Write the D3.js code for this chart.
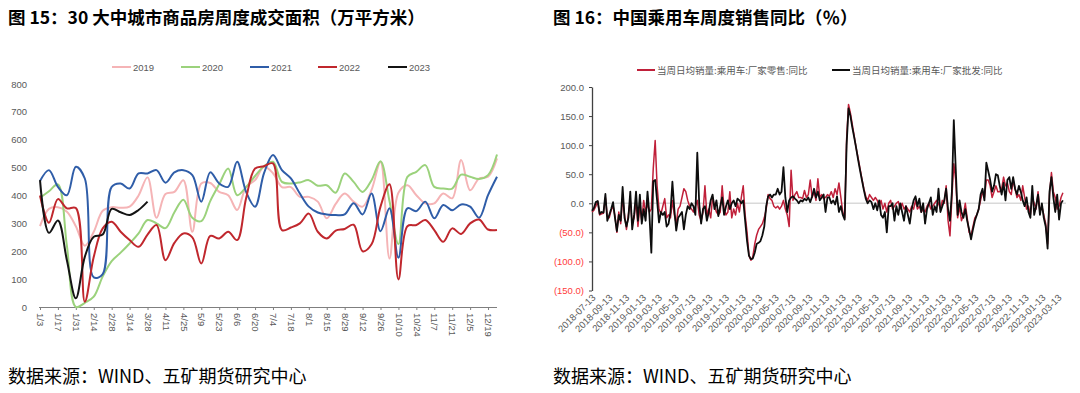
<!DOCTYPE html>
<html>
<head>
<meta charset="utf-8">
<style>
  body { margin: 0; background: #fff; }
  svg { display: block; }
  text { font-family: "Liberation Sans", Arial, sans-serif; }
  .cjk { font-family: "Noto Sans CJK SC", sans-serif; }
</style>
</head>
<body>
<svg id="chart" width="1080" height="393"></svg>
<script src="https://cdn.jsdelivr.net/npm/d3@7/dist/d3.min.js"></script>
<script>
  // ---- left chart data: weekly area (10k m2), 30 cities
  var weeks = ["1/3","1/10","1/17","1/24","1/31","2/7","2/14","2/21","2/28","3/7","3/14","3/21","3/28",
    "4/4","4/11","4/18","4/25","5/2","5/9","5/16","5/23","5/30","6/6","6/13","6/20","6/27",
    "7/4","7/11","7/18","7/25","8/1","8/8","8/15","8/22","8/29","9/5","9/12","9/19","9/26",
    "10/3","10/10","10/17","10/24","10/31","11/7","11/14","11/21","11/28","12/5","12/12","12/19","12/26"]
  var weekTicks = weeks.filter(function(d, i) { return i % 2 == 0 })
  var yearNames = ["2019","2020","2021","2022","2023"]
  var area2019 = [290,352,358,342,290,220,270,345,358,356,360,400,465,320,405,413,455,270,443,445,413,401,348,431,455,503,
    480,430,430,395,395,378,318,370,407,378,360,420,520,174,410,437,401,372,372,407,390,527,419,461,467,533]
  var area2020 = [392,415,440,220,0,15,37,110,165,195,228,264,312,300,283,340,385,320,308,380,440,497,401,430,470,505,
    521,449,443,447,455,435,437,410,479,449,413,455,523,380,226,467,485,509,431,425,425,475,467,459,473,547]
  var area2021 = [452,491,431,401,503,461,106,118,431,443,425,479,479,491,446,483,491,473,378,483,443,431,521,413,360,480,
    545,491,461,407,360,339,332,330,332,372,332,407,272,354,177,354,344,378,318,366,347,368,360,320,401,467]
  var area2022 = [400,302,387,354,355,19,180,282,306,270,240,216,260,294,168,230,264,250,156,255,246,270,240,390,497,505,
    515,276,285,300,335,270,246,274,280,295,200,225,360,440,99,290,294,312,276,234,282,262,300,314,278,276]
  var area2023 = [455,266,310,168,31,180,252,260,352,340,330,348,378]
  var leftTicks = [0,100,200,300,400,500,600,700,800]

  // ---- right chart data: weekly passenger car sales yoy (%)
  var salesStart = "2018-07-13"
  var dateTicks = ["2018-07-13","2018-09-13","2018-11-13","2019-01-13","2019-03-13","2019-05-13","2019-07-13",
    "2019-09-13","2019-11-13","2020-01-13","2020-03-13","2020-05-13","2020-07-13","2020-09-13","2020-11-13",
    "2021-01-13","2021-03-13","2021-05-13","2021-07-13","2021-09-13","2021-11-13","2022-01-13","2022-03-13",
    "2022-05-13","2022-07-13","2022-09-13","2022-11-13","2023-01-13","2023-03-13"]
  var rightTicks = [-150,-100,-50,0,50,100,150,200]
  var seriesNames = ["当周日均销量:乘用车:厂家零售:同比","当周日均销量:乘用车:厂家批发:同比"]
  var retail = [-15,-12,-5,3,-20,-18,-17,10,-22,-25,-12,-5,-22,-50,-15,-35,10,-20,-45,-20,
    5,-35,-25,5,-40,-5,-30,5,-15,0,-15,-10,60,108,30,-10,-18,-5,8,-25,
    -20,-25,5,-20,-35,-10,-5,10,25,20,5,-5,-10,-15,-5,5,-20,-30,-15,30,
    -20,-10,-25,10,-5,-15,-20,-15,30,-10,-20,-15,20,-25,-10,-20,0,-15,10,30,
    -20,-50,-90,-98,-92,-70,-55,-45,-40,-35,-25,-10,15,8,5,-5,-8,-5,-10,-5,
    5,-10,-20,-40,57,5,15,20,10,10,8,22,10,15,40,10,20,5,42,10,
    15,8,10,15,12,20,10,25,15,35,10,-15,-25,110,170,155,135,115,95,78,
    60,42,25,12,5,15,10,5,10,5,-5,5,-10,0,-15,0,5,-10,-5,0,
    3,-10,0,-10,-5,-10,-15,-5,-10,5,-10,-5,-15,-10,-15,-5,0,-10,-5,0,
    5,0,-10,5,0,30,-30,-56,10,68,40,-25,-5,-30,-20,0,-25,-50,-55,-40,
    -25,-20,-10,5,20,10,40,40,30,10,20,30,20,20,25,45,30,35,20,15,
    40,25,10,15,5,30,10,-10,-5,-20,10,0,-10,20,-15,-5,-20,-35,-70,15,
    53,20,10,-10,-5,10,18]
  var wholesale = [-13,-8,2,4,-18,-15,-16,16,-30,-20,-10,2,-25,-48,-20,-30,28,-25,-40,-25,
    20,-45,-20,20,-30,15,-35,-10,-30,20,-20,-85,38,40,5,-33,-15,-20,-15,-40,
    -35,-15,37,-10,-47,-25,-20,-15,-45,-20,-5,-10,0,-5,-20,87,0,-35,-10,-5,
    -30,-15,5,15,-10,5,-22,-5,10,-20,-5,5,-10,0,5,-5,8,5,0,5,
    -30,-65,-90,-96,-95,-85,-70,-68,-65,-55,-40,-5,12,15,10,15,15,25,15,20,
    62,10,-15,5,10,12,8,5,0,5,3,8,5,10,2,12,25,10,20,5,
    10,15,-15,10,10,0,5,-2,12,-15,-5,-20,-28,100,163,150,130,113,95,75,
    57,40,23,8,0,5,2,-10,0,-12,5,-20,-25,-15,-50,-5,-5,0,-30,-5,
    -20,0,-15,-30,-5,-20,-35,-10,5,12,-5,8,-15,0,-35,-10,0,10,-20,-5,
    -15,25,-15,-5,5,25,-10,-30,20,143,60,-20,5,-15,-25,-10,-30,-45,-62,-45,
    -30,-20,-10,15,25,5,70,55,40,20,30,50,48,30,15,35,5,40,45,25,
    45,25,15,30,20,5,-5,10,-15,-25,30,-20,-5,15,-20,0,-25,-40,-78,20,
    45,10,-15,15,-28,0,5]

  var svg = d3.select("#chart")
  var grey = "#595959"

  // titles and sources
  svg.append("text").attr("class", "cjk").attr("x", 8).attr("y", 24)
    .style("font-size", "17.5px").style("font-weight", "bold").text("图 15：30 大中城市商品房周度成交面积（万平方米）")
  svg.append("text").attr("class", "cjk").attr("x", 553).attr("y", 24)
    .style("font-size", "17.5px").style("font-weight", "bold").text("图 16：中国乘用车周度销售同比（％）")
  svg.append("text").attr("class", "cjk").attr("x", 8).attr("y", 383)
    .style("font-size", "18px").text("数据来源：WIND、五矿期货研究中心")
  svg.append("text").attr("class", "cjk").attr("x", 553).attr("y", 383)
    .style("font-size", "18px").text("数据来源：WIND、五矿期货研究中心")

  // ================= left chart
  var x1 = d3.scalePoint().domain(weeks).range([40, 497])
  var y1 = d3.scaleLinear().domain([0, 800]).range([307, 84])
  var colors1 = ["#f5b4b6", "#9bd27c", "#2f5da8", "#c0272d", "#141414"]
  var areas = [area2019, area2020, area2021, area2022, area2023]

  var yAxis1 = svg.append("g").attr("transform", "translate(28,0)")
    .call(d3.axisLeft(y1).tickValues(leftTicks).tickSize(0).tickPadding(1))
  yAxis1.select(".domain").remove()
  yAxis1.selectAll("text").style("font-size", "9.5px").attr("fill", grey)

  var xAxis1 = svg.append("g").attr("transform", "translate(0,307)")
    .call(d3.axisBottom(x1).tickValues(weekTicks).tickSize(3).tickSizeOuter(0).tickPadding(3))
  xAxis1.select(".domain").attr("stroke", "#7f7f7f").attr("d", "M39,0.5H497")
  xAxis1.selectAll(".tick line").attr("stroke", "#7f7f7f")
  xAxis1.selectAll("text").style("font-size", "9.5px").attr("fill", grey)
    .attr("transform", "rotate(90)").attr("x", 6).attr("y", 0).attr("dy", "0.35em")
    .style("text-anchor", "start")

  var line1 = d3.line()
    .x(function(d, i) { return x1(weeks[i]) })
    .y(function(d) { return y1(d) })
    .curve(d3.curveCatmullRom)
  areas.forEach(function(a, k) {
    svg.append("path").datum(a).attr("d", line1).attr("fill", "none")
      .attr("stroke", colors1[k]).attr("stroke-width", 2)
  })

  // legend left
  var legX = [112, 181, 250, 318, 388]
  yearNames.forEach(function(n, k) {
    svg.append("line").attr("x1", legX[k]).attr("x2", legX[k] + 19).attr("y1", 67).attr("y2", 67)
      .attr("stroke", colors1[k]).attr("stroke-width", 2)
    svg.append("text").attr("x", legX[k] + 21).attr("y", 70.5).style("font-size", "9.5px")
      .attr("fill", grey).text(n)
  })

  // ================= right chart
  var parse = d3.timeParse("%Y-%m-%d")
  var t0 = parse(salesStart)
  var dates = retail.map(function(d, i) { return d3.timeDay.offset(t0, 7 * i) })
  var x2 = d3.scaleTime().domain([parse(dateTicks[0]), parse(dateTicks[dateTicks.length - 1])]).range([592, 1058])
  var y2 = d3.scaleLinear().domain([-150, 200]).range([290.5, 87])

  // zero line
  svg.append("line").attr("x1", 592).attr("x2", 1066).attr("y1", y2(0)).attr("y2", y2(0))
    .attr("stroke", "#d9d9d9").attr("stroke-width", 1.5)

  var yAxis2 = svg.append("g").attr("transform", "translate(592,0)")
    .call(d3.axisLeft(y2).tickValues(rightTicks).tickSize(3).tickSizeOuter(0).tickPadding(5)
      .tickFormat(function(d) { return d < 0 ? "(" + (-d).toFixed(1) + ")" : d.toFixed(1) }))
  yAxis2.select(".domain").attr("stroke", "#404040").attr("stroke-width", 1.3)
  yAxis2.selectAll(".tick line").attr("stroke", "#404040")
  yAxis2.selectAll("text").style("font-size", "9.5px")
    .attr("fill", function(d) { return d < 0 ? "#ff3b3b" : grey })

  // date labels, rotated
  svg.append("g").selectAll("text").data(dateTicks).enter().append("text")
    .attr("transform", function(d) { return "translate(" + (x2(parse(d)) + 2) + ",296) rotate(-45)" })
    .style("text-anchor", "end").style("font-size", "9.5px").attr("fill", grey)
    .attr("dy", "0.35em").text(function(d) { return d })

  var line2 = d3.line()
    .x(function(d, i) { return x2(dates[i]) })
    .y(function(d) { return y2(d) })
  svg.append("path").datum(retail).attr("d", line2).attr("fill", "none")
    .attr("stroke", "#c0203a").attr("stroke-width", 1.5).attr("stroke-linejoin", "round")
  svg.append("path").datum(wholesale).attr("d", line2).attr("fill", "none")
    .attr("stroke", "#0d0d0d").attr("stroke-width", 1.8).attr("stroke-linejoin", "round")

  // legend right
  var legX2 = [637, 832]
  var colors2 = ["#c0203a", "#0d0d0d"]
  seriesNames.forEach(function(n, k) {
    svg.append("line").attr("x1", legX2[k]).attr("x2", legX2[k] + 18).attr("y1", 70).attr("y2", 70)
      .attr("stroke", colors2[k]).attr("stroke-width", 2)
    svg.append("text").attr("class", "cjk").attr("x", legX2[k] + 20).attr("y", 73.5)
      .style("font-size", "9.5px").attr("fill", grey).text(n)
  })
</script>
</body>
</html>
